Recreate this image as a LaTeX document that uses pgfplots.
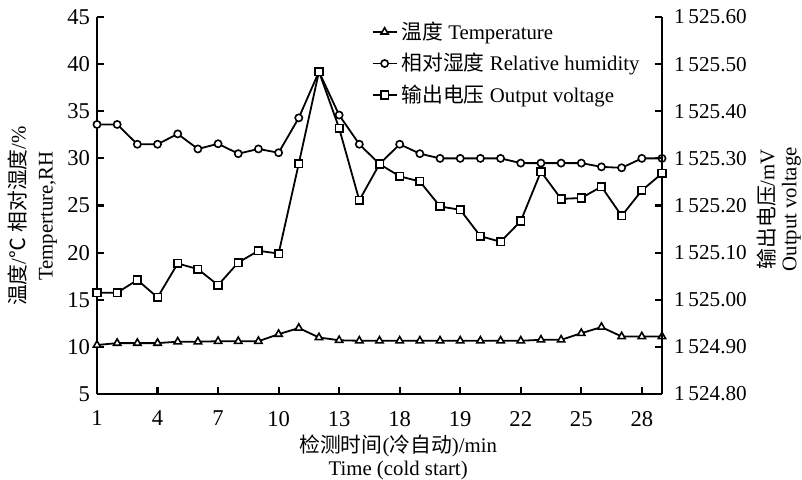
\documentclass[border=0pt]{standalone}
\usepackage{pgfplots}
\pgfplotsset{compat=1.18}
\usepackage{pgfplotstable}
\usepackage{fontspec}
\setmainfont{Liberation Serif}
\newfontfamily\cjk{Noto Sans CJK SC}

\pgfplotstableread{
x T RH
1 10.2 33.6
2 10.4 33.6
3 10.4 31.5
4 10.4 31.5
5 10.55 32.6
6 10.55 31.0
7 10.6 31.55
8 10.6 30.5
9 10.6 31.0
10 11.35 30.6
11 12.0 34.3
12 11.0 39.2
13 10.7 34.6
14 10.65 31.5
15 10.65 29.4
16 10.65 31.5
17 10.65 30.5
18 10.65 30.0
19 10.65 30.0
20 10.65 30.0
21 10.65 30.0
22 10.65 29.5
23 10.75 29.5
24 10.75 29.5
25 11.45 29.5
26 12.1 29.1
27 11.1 29.0
28 11.1 30.0
29 11.1 30.0
}\tabTH

\pgfplotstableread{
x V
1 1525.015
2 1525.015
3 1525.042
4 1525.005
5 1525.077
6 1525.065
7 1525.031
8 1525.079
9 1525.104
10 1525.098
11 1525.289
12 1525.484
13 1525.364
14 1525.211
15 1525.288
16 1525.262
17 1525.251
18 1525.198
19 1525.191
20 1525.135
21 1525.123
22 1525.167
23 1525.272
24 1525.214
25 1525.216
26 1525.240
27 1525.178
28 1525.232
29 1525.268
}\tabV

\begin{document}
\begin{tikzpicture}
\pgfplotsset{
  common/.style={
    width=282.5pt, height=188.5pt, scale only axis,
    at={(0pt,0pt)}, anchor=south west,
    xmin=1, xmax=29,
    axis line style={-, line width=1.3pt},
    tick align=inside, major tick length=3.5pt,
    every tick/.style={black, line width=1.1pt},
    tick label style={font=\fontsize{11.3}{13}\selectfont},
    /pgf/number format/assume math mode=true,
    legend image code/.code={\draw[mark repeat=2,mark phase=2] plot coordinates {(0cm,0cm) (0.21cm,0cm) (0.42cm,0cm)};},
  },
  tri/.style={black, line width=0.9pt, mark=triangle*, mark size=2.1pt, mark options={solid, fill=white, line width=0.8pt}},
  circ/.style={black, line width=0.9pt, mark=*, mark size=1.8pt, mark options={solid, fill=white, line width=0.8pt}},
  sq/.style={black, line width=0.9pt, mark=square*, mark size=1.9pt, mark options={solid, fill=white, line width=0.8pt}},
}
\begin{axis}[common,
  axis x line*=bottom, axis y line*=left,
  ymin=5, ymax=45, ytick={5,10,...,45},
  xtick={1,4,7,10,13,16,19,22,25,28},
  xticklabels={1,4,7,10,13,18,19,22,25,28},
  xticklabel style={yshift=-5pt},
  every axis y label/.style={at={(axis description cs:-0.114,0.472)}, anchor=center, rotate=90, align=center, font=\fontsize{10.4}{13.5}\selectfont},
  every axis x label/.style={at={(axis description cs:0.533,-0.168)}, anchor=center, align=center, font=\fontsize{10.4}{11.5}\selectfont},
  ylabel={{\cjk 温度}/{\cjk ℃} {\cjk 相对湿度}/\%\\Temperture,RH},
  xlabel={{\cjk 检测时间}({\cjk 冷自动})/min\\Time (cold start)},
]
\addplot[tri] table[x=x, y=T] {\tabTH};
\addplot[circ] table[x=x, y=RH] {\tabTH};
\end{axis}
\begin{axis}[common,
  axis x line=none, axis y line*=right,
  ymin=1524.8, ymax=1525.6,
  ytick={1524.8,1524.9,1525.0,1525.1,1525.2,1525.3,1525.4,1525.5,1525.6},
  scaled y ticks=false,
  yticklabel style={xshift=2.5pt, font=\fontsize{10.6}{12}\selectfont, /pgf/number format/.cd, fixed, fixed zerofill, precision=2, 1000 sep={\hspace{0.18em}}},
  every axis y label/.style={at={(axis description cs:1.207,0.49)}, anchor=center, rotate=90, align=center, font=\fontsize{10.4}{11}\selectfont},
  ylabel={{\cjk 输出电压}/mV\\Output voltage},
  legend style={draw=none, fill=none, at={(rel axis cs:0.475,1.01)}, anchor=north west,
    font=\fontsize{10.4}{12}\selectfont, row sep=1.5pt,
    /tikz/every even column/.append style={column sep=0pt}},
  legend cell align=left,
]
\addlegendimage{tri}
\addlegendentry{{\cjk 温度} Temperature}
\addlegendimage{circ}
\addlegendentry{{\cjk 相对湿度} Relative humidity}
\addplot[sq] table[x=x, y=V] {\tabV};
\addlegendentry{{\cjk 输出电压} Output voltage}
\end{axis}
\pgfresetboundingbox
\path (-48.5pt,-42.5pt) rectangle (352.5pt,197pt);
\end{tikzpicture}
\end{document}
